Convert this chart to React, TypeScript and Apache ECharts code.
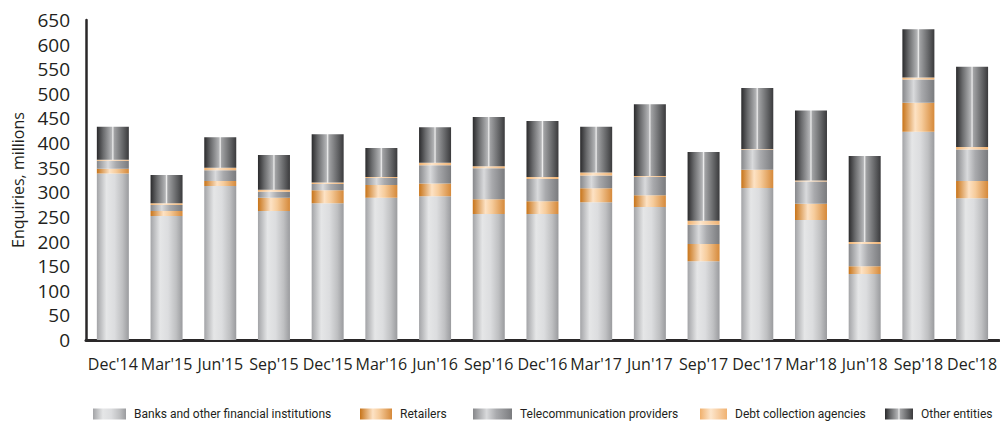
import React, { useEffect, useRef } from "react";
import * as echarts from "echarts";

const categories = ["Dec'14", "Mar'15", "Jun'15", "Sep'15", "Dec'15", "Mar'16", "Jun'16", "Sep'16", "Dec'16", "Mar'17", "Jun'17", "Sep'17", "Dec'17", "Mar'18", "Jun'18", "Sep'18", "Dec'18"];
const banks = [338, 252, 313, 262, 278, 289, 292, 256, 256, 280, 270, 160, 309, 244, 134, 423, 288];
const retailers = [10, 10, 10, 27, 26, 26, 26, 30, 26, 28, 24, 35, 37, 33, 16, 59, 35];
const telecom = [16, 12, 22, 12, 13, 14, 37, 63, 45, 26, 37, 39, 41, 45, 45, 47, 64];
const debt = [2, 4, 5, 4, 3, 2, 5, 4, 4, 6, 2, 8, 1, 2, 4, 4, 5];
const other = [67, 57, 62, 71, 98, 59, 72, 100, 114, 93, 146, 140, 124, 142, 175, 98, 163];
const yTicks = { min: 0, max: 650, interval: 50 };

const seriesNames = [
  "Banks and other financial institutions",
  "Retailers",
  "Telecommunication providers",
  "Debt collection agencies",
  "Other entities",
];

const grad = (stops: [number, string][]) =>
  new echarts.graphic.LinearGradient(0, 0, 1, 0, stops.map(([offset, color]) => ({ offset, color })));

const colors = [
  grad([[0, "#a3a4a7"], [0.3, "#e5e6e7"], [0.55, "#dcdddf"], [0.8, "#bfc0c2"], [1, "#9a9b9e"]]),
  grad([[0, "#c7741a"], [0.4, "#fde2c4"], [0.6, "#f6cc9c"], [1, "#d5893a"]]),
  grad([[0, "#87888b"], [0.35, "#d9dadc"], [0.6, "#a9aaad"], [1, "#7a7b7e"]]),
  grad([[0, "#f0b06c"], [0.4, "#fde6cc"], [1, "#f0b272"]]),
  grad([[0, "#2a2a2c"], [0.2, "#6a6b6d"], [0.46, "#b3b4b6"], [0.5, "#eeeeee"], [0.54, "#a2a3a5"], [0.85, "#5c5d5f"], [1, "#3a3a3c"]]),
];

const dataSets = [banks, retailers, telecom, debt, other];
const legendPos = [
  { left: 93, w: 33 },
  { left: 360, w: 32 },
  { left: 473, w: 39 },
  { left: 700, w: 27 },
  { left: 885, w: 28 },
];

const textColor = "#231f20";
const font = "'Open Sans', 'Noto Sans', sans-serif";

export default function App() {
  const ref = useRef<HTMLDivElement>(null);
  useEffect(() => {
    if (!ref.current) return;
    const chart = echarts.init(ref.current, null, { renderer: "svg" });
    chart.setOption({
      animation: false,
      backgroundColor: "#ffffff",
      grid: { left: 86, right: -3, top: 20, bottom: 81, containLabel: false },
      legend: legendPos.map((p, i) => ({
        data: [seriesNames[i]],
        left: p.left,
        top: 408,
        itemWidth: p.w,
        itemHeight: 11,
        itemGap: 0,
        padding: 0,
        icon: "rect",
        selectedMode: false,
        textStyle: {
          fontFamily: "Roboto, sans-serif",
          fontSize: 12,
          color: textColor,
          padding: [0, 0, 0, 3],
        },
      })),
      xAxis: {
        type: "category",
        data: categories,
        axisLine: { show: true, lineStyle: { color: "#2a2829", width: 3 } },
        axisTick: { show: false },
        axisLabel: { color: textColor, fontSize: 16, fontFamily: font, margin: 16, interval: 0 },
      },
      yAxis: {
        type: "value",
        min: yTicks.min,
        max: yTicks.max,
        interval: yTicks.interval,
        name: "Enquiries, millions",
        nameLocation: "middle",
        nameRotate: 90,
        nameGap: 60,
        nameTextStyle: { color: textColor, fontSize: 16, fontFamily: font },
        axisLine: { show: true, lineStyle: { color: "#2a2829", width: 2.5 } },
        axisTick: { show: false },
        splitLine: { show: false },
        axisLabel: { color: textColor, fontSize: 19, fontFamily: font, margin: 16 },
      },
      series: dataSets.map((d, i) => ({
        name: seriesNames[i],
        type: "bar",
        stack: "total",
        barWidth: 32,
        data: d,
        itemStyle: { color: colors[i] },
        emphasis: { disabled: true },
      })),
    });
    return () => chart.dispose();
  }, []);
  return <div ref={ref} style={{ width: 1000, height: 421, position: "absolute", left: 0, top: 0 }} />;
}
